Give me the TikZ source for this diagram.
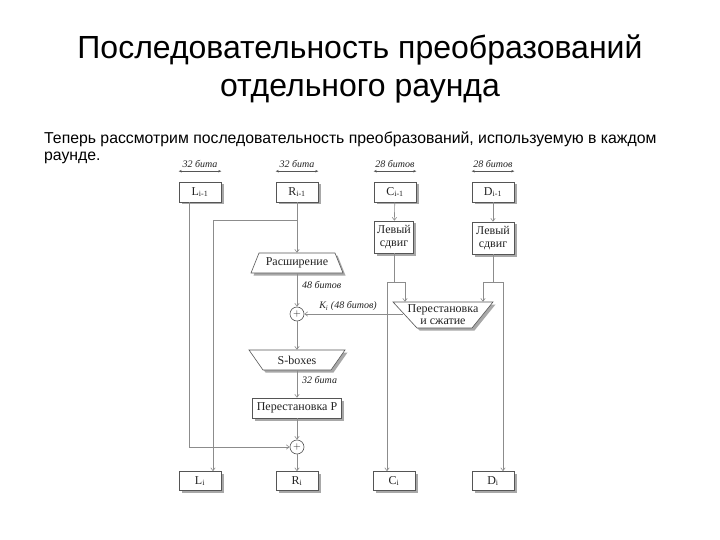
\documentclass[tikz,border=0pt]{standalone}
\usepackage{fontspec}
\setmainfont{Liberation Serif}
\newfontfamily\hfont{Liberation Sans}
\usetikzlibrary{arrows.meta,shadows}
\definecolor{boxc}{HTML}{555555}
\definecolor{linec}{HTML}{8C8C8C}
\definecolor{shc}{HTML}{A8A8A8}
\definecolor{txtc}{HTML}{222222}
\begin{document}
\begin{tikzpicture}[x=1pt,y=-1pt,
  shad/.style={drop shadow={shadow xshift=2.5pt,shadow yshift=-2.5pt,fill=shc,opacity=1}},
  box/.style={draw=boxc,fill=white,line width=0.6pt,minimum width=42pt,minimum height=20pt,
    inner sep=1pt,text=txtc,font=\fontsize{12}{12.5}\selectfont,shad},
  tshape/.style={draw=boxc,fill=white,line width=0.6pt,shad},
  ttext/.style={inner sep=0pt,minimum height=20pt,text=txtc,font=\fontsize{12}{12.5}\selectfont,align=center},
  line/.style={draw=linec,line width=0.6pt},
  arr/.style={line,-{Straight Barb[length=3pt,width=4.5pt]}},
  dbl/.style={draw=boxc,line width=0.5pt,{Stealth[length=3pt,width=2.5pt]}-{Stealth[length=3pt,width=2.5pt]}},
  wl/.style={inner sep=0pt,text=txtc,font=\fontsize{10}{10}\selectfont\itshape},
  xor/.style={circle,draw=boxc,fill=white,line width=0.6pt,minimum size=14pt,inner sep=0pt,
    text=txtc,font=\fontsize{10}{10}\selectfont}]
\useasboundingbox[fill=white] (0,0) rectangle (720,540);

% title and text
\node[anchor=base,inner sep=0pt,font=\hfont\fontsize{32}{38}\selectfont] (t1) at (360,59) {Последовательность преобразований};
\node[anchor=base,inner sep=0pt,font=\hfont\fontsize{32}{38}\selectfont] (t2) at (360,97) {отдельного раунда};
\node[anchor=base west,inner sep=0pt,font=\hfont\fontsize{15.8}{17}\selectfont] (b1) at (44,144) {Теперь рассмотрим последовательность преобразований, используемую в каждом};
\node[anchor=base west,inner sep=0pt,font=\hfont\fontsize{15.8}{17}\selectfont] (b2) at (44,161) {раунде.};

% top boxes
\node[box] (Lp) at (200,192) {L\textsubscript{i-1}};
\node[box] (Rp) at (297,192) {R\textsubscript{i-1}};
\node[box] (Cp) at (395,192) {C\textsubscript{i-1}};
\node[box] (Dp) at (493,192) {D\textsubscript{i-1}};

% width markers
\draw[dbl] ([yshift=10.5pt]Lp.north west) -- ([yshift=10.5pt]Lp.north east);
\draw[dbl] ([yshift=10.5pt]Rp.north west) -- ([yshift=10.5pt]Rp.north east);
\draw[dbl] ([yshift=10.5pt]Cp.north west) -- ([yshift=10.5pt]Cp.north east);
\draw[dbl] ([yshift=10.5pt]Dp.north west) -- ([yshift=10.5pt]Dp.north east);
\node[wl,anchor=base] (wL) at ([yshift=14pt]Lp.north) {32 бита};
\node[wl,anchor=base] (wR) at ([yshift=14pt]Rp.north) {32 бита};
\node[wl,anchor=base] (wC) at ([yshift=14pt]Cp.north) {28 битов};
\node[wl,anchor=base] (wD) at ([yshift=14pt]Dp.north) {28 битов};

% shift boxes
\node[box,minimum width=39pt,minimum height=32pt,align=center] (sC) at (394,237) {Левый\\сдвиг};
\node[box,minimum width=42pt,minimum height=32pt,align=center] (sD) at (493,238) {Левый\\сдвиг};

% expansion
\path[tshape] (259,253) -- (335,253) -- (343,273) -- (251,273) -- cycle;
\node[ttext] (ex) at (297,263) {Расширение};
\node[wl,anchor=west] (w48) at (302,285) {48 битов};

% xor A
\node[xor] (xa) at (297,314) {$+$};

% compression
\path[tshape] (393,302) -- (493,302) -- (472,328) -- (417,328) -- cycle;
\node[ttext,minimum height=26pt] (cp) at (443,315) {};
\node[ttext,anchor=base] (cp1) at (443,312) {Перестановка};
\node[ttext,anchor=base] (cp2) at (443,324.5) {и сжатие};
\coordinate (kin) at (403,314);
\node[wl] (kl) at (348,306) {K\textsubscript{i} (48 битов)};

% S-boxes
\path[tshape] (249,350) -- (345,350) -- (331,370) -- (263,370) -- cycle;
\node[ttext] (sb) at (297,360) {S-boxes};
\node[wl,anchor=west] (w32) at (302,380) {32 бита};

% permutation P
\node[box,minimum width=89pt] (pp) at (297,408) {Перестановка P};

% xor B
\node[xor] (xb) at (297,447) {$+$};

% bottom boxes
\node[box,minimum height=19pt] (Ln) at (200,481) {L\textsubscript{i}};
\node[box,minimum height=19pt] (Rn) at (297,481) {R\textsubscript{i}};
\node[box,minimum height=19pt] (Cn) at (394,481) {C\textsubscript{i}};
\node[box,minimum height=19pt] (Dn) at (493,481) {D\textsubscript{i}};

% connectors
\coordinate (br) at (297,220);
\coordinate (jC) at (394,282);
\coordinate (jD) at (493,282);
\draw[arr] (Rp) -- (ex);
\draw[arr] (br) -| ([xshift=13pt]Ln.north);
\draw[arr] ([xshift=-11pt]Lp.south) |- (xb.west);
\draw[arr] (ex) -- (xa);
\draw[arr] (kin) -- (xa.east);
\draw[arr] (xa) -- (sb);
\draw[arr] (sb) -- (pp);
\draw[arr] (pp) -- (xb);
\draw[arr] (xb) -- (Rn);
\draw[arr] (Cp) -- (sC);
\draw[arr] (Dp) -- (sD);
\draw[line] (sC) -- (jC);
\draw[line] (sD) -- (jD);
\draw[arr] (jC) -| ([xshift=-7pt]Cn.north);
\draw[arr] (jC) -| ([xshift=-38pt]cp.north);
\draw[arr] (jD) -| ([xshift=40pt]cp.north);
\draw[arr] (jD) -| ([xshift=10pt]Dn.north);
\end{tikzpicture}
\end{document}
